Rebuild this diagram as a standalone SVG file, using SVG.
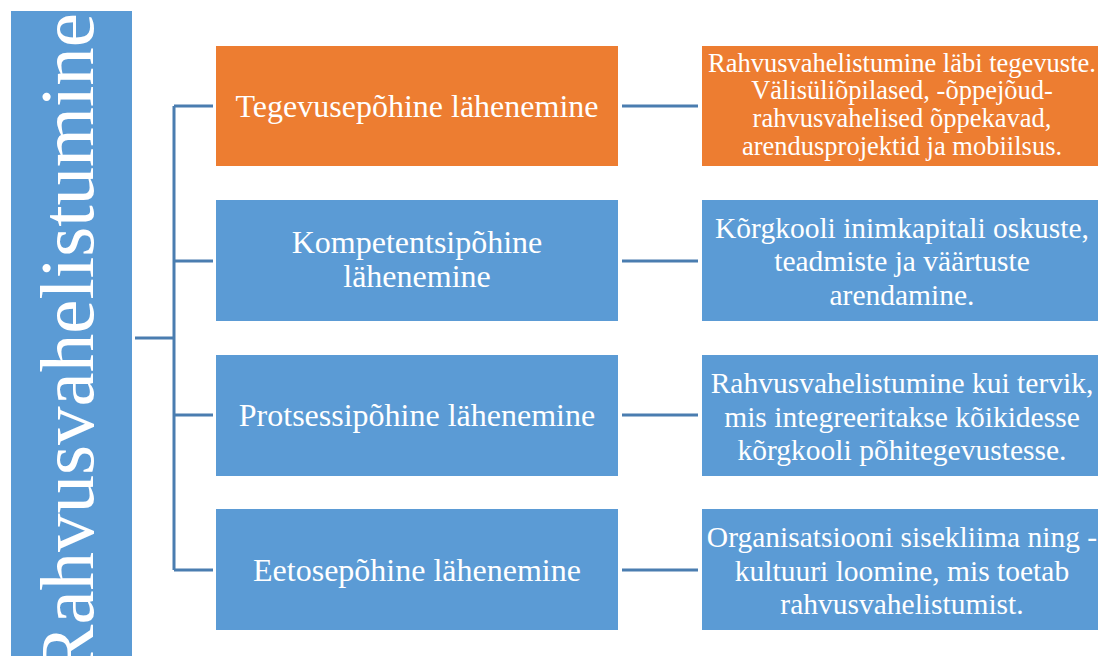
<svg xmlns="http://www.w3.org/2000/svg" width="1098" height="656" viewBox="0 0 1098 656">
<style>
.b{fill:#5B9BD5}
.o{fill:#ED7D31}
.t{fill:#fff;font-family:"Liberation Serif","Times New Roman",serif;text-anchor:middle}
.m{font-size:32px}
.r{font-size:29.5px}
.s{font-size:26.5px}
.c{stroke:#4A7DB0;stroke-width:3;fill:none}
</style>
<rect width="1098" height="656" fill="#fff"/>
<g id="root">
<rect class="b" x="11" y="11" width="121" height="650"/>
<text class="t" font-size="77" transform="translate(93,13) rotate(-90)" style="text-anchor:end">Rahvusvahelistumine</text>
</g>
<g id="connectors">
<path class="c" d="M135 338H174M174 106V570M174 106H213M174 261H213M174 415H213M174 570H213"/>
<path class="c" d="M622 106H698M622 261H698M622 415H698M622 570H698"/>
</g>
<g id="n1">
<rect class="o" x="216" y="46" width="402" height="120"/>
<text class="t m" x="417" y="117">Tegevusepõhine lähenemine</text>
</g>
<g id="n2">
<rect class="b" x="216" y="200" width="402" height="121"/>
<text class="t m" x="417" y="253">Kompetentsipõhine</text>
<text class="t m" x="417" y="287">lähenemine</text>
</g>
<g id="n3">
<rect class="b" x="216" y="355" width="402" height="121"/>
<text class="t m" x="417" y="426">Protsessipõhine lähenemine</text>
</g>
<g id="n4">
<rect class="b" x="216" y="509" width="402" height="121"/>
<text class="t m" x="417" y="581">Eetosepõhine lähenemine</text>
</g>
<g id="d1">
<rect class="o" x="702" y="46" width="396" height="120"/>
<text class="t s" x="902" y="72">Rahvusvahelistumine läbi tegevuste.</text>
<text class="t s" x="902" y="99">Välisüliõpilased, -õppejõud-</text>
<text class="t s" x="902" y="127">rahvusvahelised õppekavad,</text>
<text class="t s" x="902" y="155">arendusprojektid ja mobiilsus.</text>
</g>
<g id="d2">
<rect class="b" x="702" y="200" width="396" height="121"/>
<text class="t r" x="902" y="238">Kõrgkooli inimkapitali oskuste,</text>
<text class="t r" x="902" y="271">teadmiste ja väärtuste</text>
<text class="t r" x="902" y="305">arendamine.</text>
</g>
<g id="d3">
<rect class="b" x="702" y="355" width="396" height="121"/>
<text class="t r" x="902" y="393">Rahvusvahelistumine kui tervik,</text>
<text class="t r" x="902" y="427">mis integreeritakse kõikidesse</text>
<text class="t r" x="902" y="460">kõrgkooli põhitegevustesse.</text>
</g>
<g id="d4">
<rect class="b" x="702" y="509" width="396" height="121"/>
<text class="t r" x="902" y="547">Organisatsiooni sisekliima ning -</text>
<text class="t r" x="902" y="581">kultuuri loomine, mis toetab</text>
<text class="t r" x="902" y="614">rahvusvahelistumist.</text>
</g>
</svg>
